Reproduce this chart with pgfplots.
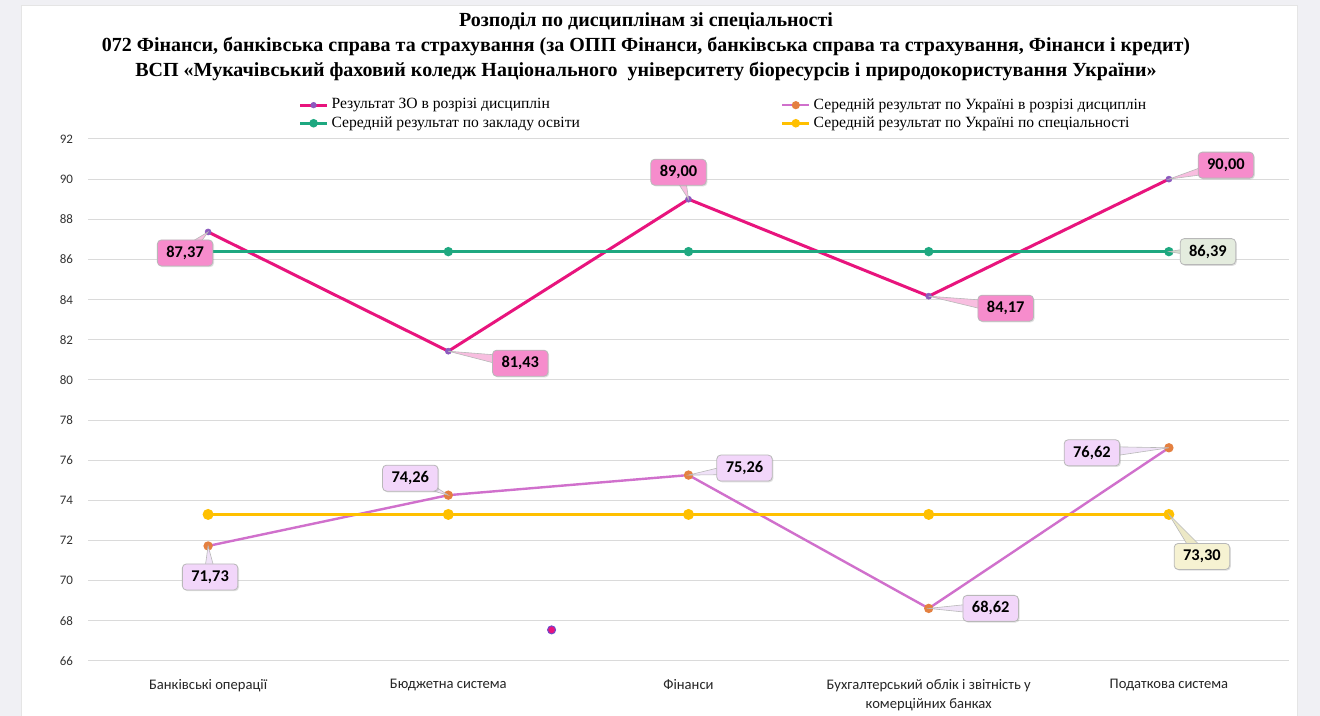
\documentclass[border=0pt]{standalone}
\usepackage{pgfplots}
\pgfplotsset{compat=1.18}
\usepackage{pgfplotstable}
\usepackage{fontspec}
\setmainfont{Liberation Serif}
\newfontfamily\carlito{Carlito}
\usetikzlibrary{calc,shadows}

% series colours
\definecolor{zoLine}{RGB}{232,20,125}
\definecolor{zoMark}{RGB}{140,90,190}
\definecolor{ukLine}{RGB}{208,112,204}
\definecolor{ukMark}{RGB}{228,128,64}
\definecolor{grLine}{RGB}{30,168,128}
\definecolor{yeLine}{RGB}{255,192,0}
% callout colours
\definecolor{zoBox}{RGB}{246,140,204}
\definecolor{ukBox}{RGB}{242,214,250}
\definecolor{grBox}{RGB}{228,236,222}
\definecolor{yeBox}{RGB}{246,242,210}
\definecolor{zoWedge}{RGB}{248,190,224}
\definecolor{ukWedge}{RGB}{240,226,248}
\definecolor{grWedge}{RGB}{214,222,208}
\definecolor{yeWedge}{RGB}{236,232,198}
\definecolor{pageBg}{RGB}{240,240,244}
\definecolor{gridCol}{RGB}{218,218,218}

% x = discipline index, y = score, dx/dy = callout offset (pt)
\pgfplotstableread{
x y dx dy
0 87.37 -11.5 -10.5
1 81.43 36 -6
2 89.00 -5 13.5
3 84.17 38.5 -6
4 90.00 28.5 7
}\zotable

\pgfplotstableread{
x y dx dy
0 71.73 1 -15.5
1 74.26 -19 8.5
2 75.26 28 3.5
3 68.62 31 0
4 76.62 -38.5 -2.5
}\uktable

\pgfplotstableread{
x y dx dy
0 86.39 0 0
1 86.39 0 0
2 86.39 0 0
3 86.39 0 0
4 86.39 19.5 0
}\grtable

\pgfplotstableread{
x y dx dy
0 73.30 0 0
1 73.30 0 0
2 73.30 0 0
3 73.30 0 0
4 73.30 16.5 -21
}\yetable

\pgfplotstableread{
x y
1.43 67.55
}\dottable

\tikzset{
  callout pointer/.style={inner sep=0pt, outer sep=0pt, minimum size=0pt, anchor=center,
    append after command={\pgfextra{%
      \coordinate (cp@p) at (\tikzlastnode.center);
      \coordinate (cp@c) at ([shift={(\dx pt,\dy pt)}]cp@p);
      \fill[#1, draw=black!28, line width=0.3pt]
        (cp@p) -- ($(cp@c)!3.2pt!90:(cp@p)$) -- ($(cp@c)!3.2pt!-90:(cp@p)$) -- cycle;}}},
  callout box/.style={anchor=center, fill=#1, draw=black!28, line width=0.4pt,
    rounded corners=2pt, inner xsep=4.5pt, inner ysep=0pt, minimum height=13pt,
    text=black, font=\carlito\bfseries\fontsize{8.2}{9}\selectfont,
    drop shadow={shadow xshift=0.6pt, shadow yshift=-0.6pt, opacity=0.25}},
}

\begin{document}
\begin{tikzpicture}
\useasboundingbox (0,0) rectangle (660pt,358pt);
\fill[pageBg] (0,0) rectangle (660pt,358pt);
\fill[white, draw=black!10, line width=0.4pt] (10.5pt,-1pt) rectangle (648.5pt,355.5pt);

\node[font=\bfseries\fontsize{10}{12.5}\selectfont, align=center, inner sep=0pt]
  at (323pt,334.5pt) {Розподіл по дисциплінам зі спеціальності\\
  072 Фінанси, банківська справа та страхування (за ОПП Фінанси, банківська справа та страхування, Фінанси і кредит)\\
  ВСП «Мукачівський фаховий коледж Національного\ \ університету біоресурсів і природокористування України»};

\begin{axis}[
  at={(44pt,27.5pt)}, anchor=south west,
  scale only axis, width=600.5pt, height=261pt,
  xmin=-0.5, xmax=4.5, ymin=66, ymax=92,
  xtick={0,1,2,3,4},
  xticklabels={Банківські операції, Бюджетна система, Фінанси,
    {Бухгалтерський облік і звітність у\\комерційних банках}, Податкова система},
  ytick={66,68,...,92},
  ymajorgrids, grid style={draw=gridCol, line width=0.5pt},
  axis line style={draw=none}, major tick length=0pt,
  /pgf/number format/assume math mode=true,
  yticklabel style={font=\carlito\fontsize{6.5}{7}\selectfont, text=black!80, xshift=-4pt},
  xticklabel style={font=\carlito\fontsize{7.3}{9.8}\selectfont, text=black!85, align=center, yshift=-5.5pt},
  legend columns=2, legend cell align=left,
  legend style={at={(0.170,1.094)}, anchor=north west, draw=none, fill=none,
    font=\fontsize{7.8}{9}\selectfont, row sep=-1.8pt,
    nodes={inner xsep=1.5pt},
    /tikz/every even column/.append style={column sep=99pt}},
  legend image code/.code={
    \draw[mark repeat=2, mark phase=2, #1, mark size=1.4pt] plot coordinates {(0pt,0pt) (6.75pt,0pt) (13.5pt,0pt)};
  },
]

% series lines
\addplot[zoLine, line width=1.5pt, mark=*, mark size=1.5pt,
  mark options={fill=zoMark, draw=zoMark, line width=0.3pt}]
  table[x=x, y=y] {\zotable};
\addlegendentry{Результат ЗО в розрізі дисциплін}
\addplot[ukLine, line width=1.2pt, mark=*, mark size=1.7pt,
  mark options={fill=ukMark, draw=ukMark}]
  table[x=x, y=y] {\uktable};
\addlegendentry{Середній результат по Україні в розрізі дисциплін}
\addplot[grLine, line width=1.4pt, mark=*, mark size=1.6pt,
  mark options={fill=grLine, draw=grLine}]
  table[x=x, y=y] {\grtable};
\addlegendentry{Середній результат по закладу освіти}
\addplot[yeLine, line width=1.4pt, mark=*, mark size=2pt,
  mark options={fill=yeLine, draw=yeLine}]
  table[x=x, y=y] {\yetable};
\addlegendentry{Середній результат по Україні по спеціальності}

% isolated marker
\addplot[only marks, forget plot, mark=*, mark size=2pt,
  mark options={fill=zoLine, draw=zoMark!80!blue, line width=0.5pt}]
  table[x=x, y=y] {\dottable};

% callout pointers
\pgfplotsset{pointer plot/.style={draw=none, forget plot, point meta=y,
  nodes near coords={\relax},
  visualization depends on={\thisrow{dx}\as\dx},
  visualization depends on={\thisrow{dy}\as\dy},
  every node near coord/.style={callout pointer=#1}}}
\addplot[pointer plot=zoWedge] table[x=x, y=y] {\zotable};
\addplot[pointer plot=ukWedge] table[x=x, y=y] {\uktable};
\addplot[pointer plot=grWedge] table[x=x, y=y, skip coords between index={0}{4}] {\grtable};
\addplot[pointer plot=yeWedge] table[x=x, y=y, skip coords between index={0}{4}] {\yetable};

% callout boxes with the values
\pgfplotsset{value plot/.style={draw=none, forget plot, point meta=y,
  nodes near coords={\pgfmathprintnumber[fixed, fixed zerofill, precision=2, use comma]{\pgfplotspointmeta}},
  visualization depends on={\thisrow{dx}\as\dx},
  visualization depends on={\thisrow{dy}\as\dy},
  every node near coord/.style={callout box=#1, xshift=\dx pt, yshift=\dy pt}}}
\addplot[value plot=zoBox] table[x=x, y=y] {\zotable};
\addplot[value plot=ukBox] table[x=x, y=y] {\uktable};
\addplot[value plot=grBox] table[x=x, y=y, skip coords between index={0}{4}] {\grtable};
\addplot[value plot=yeBox] table[x=x, y=y, skip coords between index={0}{4}] {\yetable};

\end{axis}
\end{tikzpicture}
\end{document}
